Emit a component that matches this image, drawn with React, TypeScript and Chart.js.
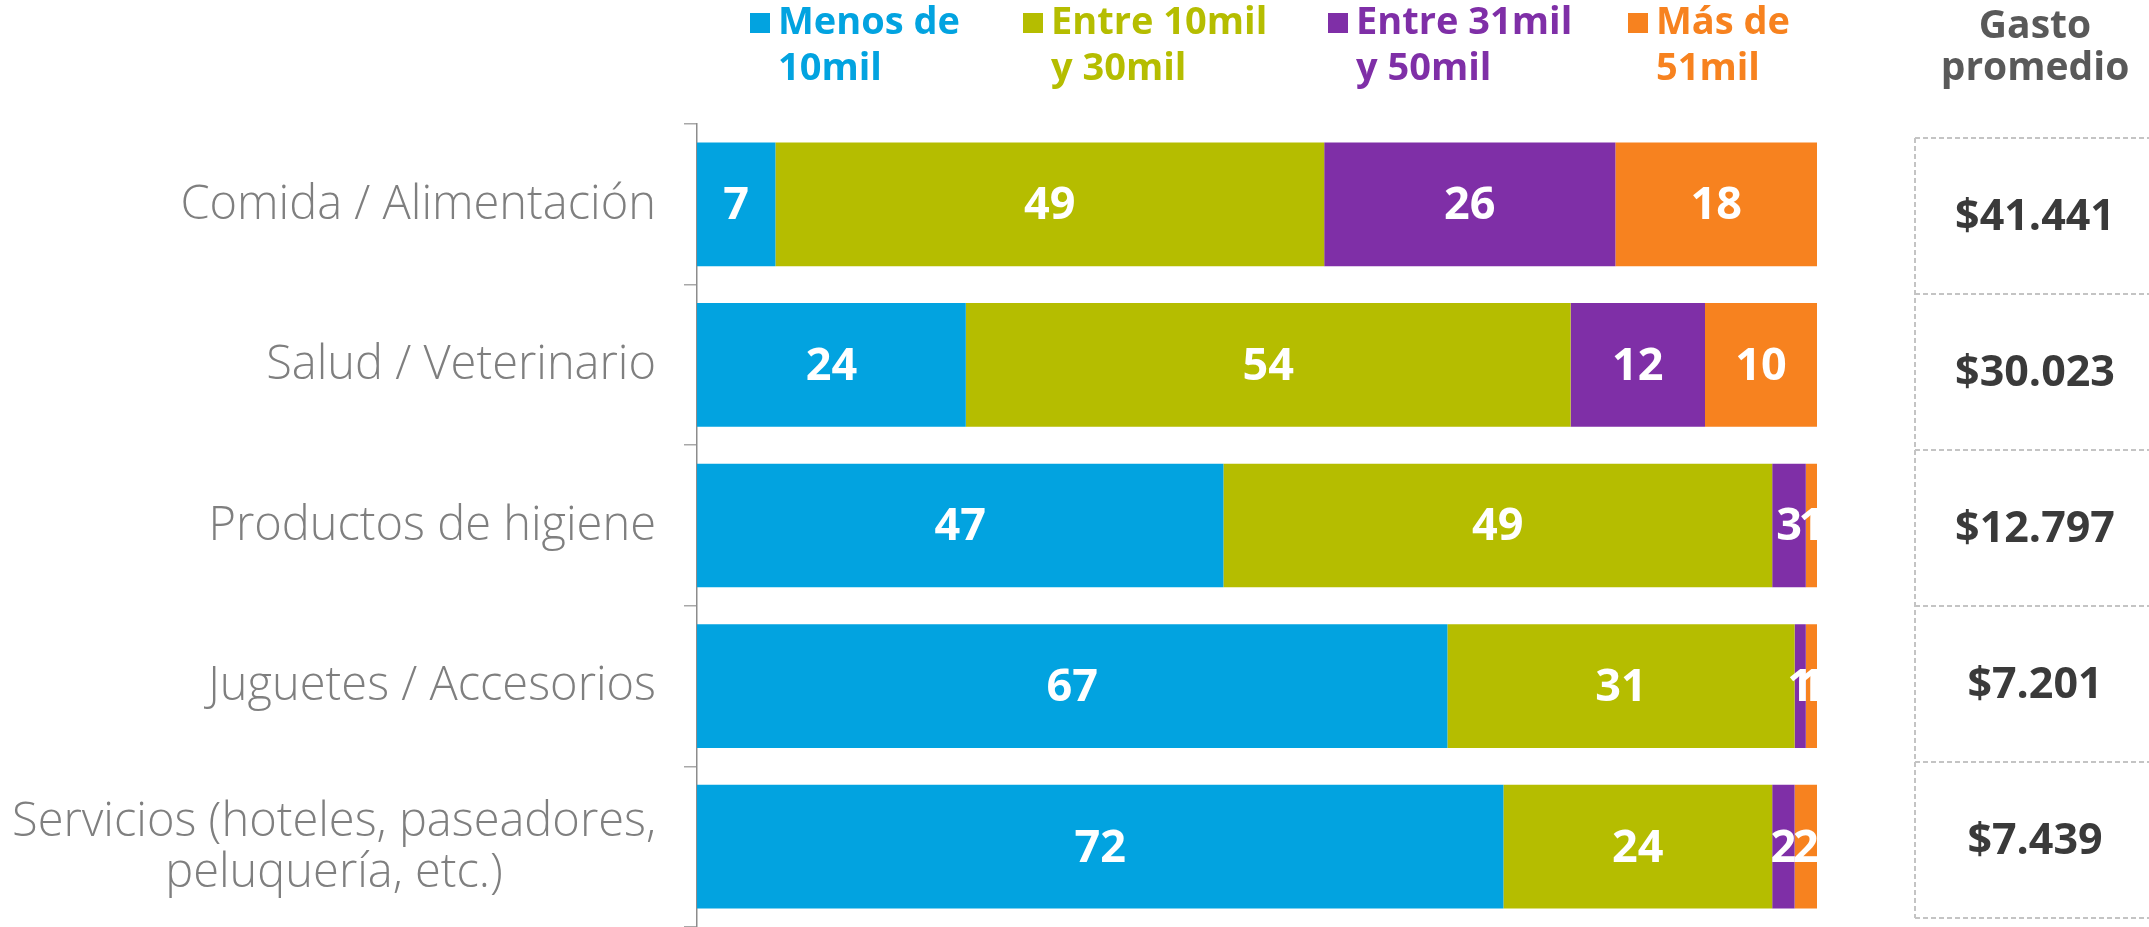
import React, { useEffect, useRef } from "react";
import { Chart, registerables } from "chart.js";

Chart.register(...registerables);

// ---------- data ----------
const categories: string[][] = [
  ["Comida / Alimentación"],
  ["Salud / Veterinario"],
  ["Productos de higiene"],
  ["Juguetes / Accesorios"],
  ["Servicios (hoteles, paseadores,", "peluquería, etc.)"],
];
const menos10 = [7, 24, 47, 67, 72];
const entre10y30 = [49, 54, 49, 31, 24];
const entre31y50 = [26, 12, 3, 1, 2];
const mas51 = [18, 10, 1, 1, 2];
const gastoPromedio = ["$41.441", "$30.023", "$12.797", "$7.201", "$7.439"];
const seriesLegend: string[][] = [
  ["Menos de", "10mil"],
  ["Entre 10mil", "y 30mil"],
  ["Entre 31mil", "y 50mil"],
  ["Más de", "51mil"],
];
const gastoHeader = ["Gasto", "promedio"];

// ---------- styles / layout ----------
const COLORS = ["#02A3E0", "#B5BD00", "#7F2FA7", "#F7821F"];
const W = 2149;
const H = 927;
const FONT = "'Open Sans', 'DejaVu Sans', sans-serif";
const LEGEND_X = [750, 1023, 1328, 1628];
const LEGEND_TEXT_DX = 28;
const TABLE = { left: 1915, top: 138, rowH: 156, centerX: 2035 };
const LABEL_RIGHT = 656;
const LABEL_LINE_H = 51;

const overlayPlugin = {
  id: "overlay",
  afterDatasetsDraw(chart: any) {
    const ctx = chart.ctx;
    ctx.save();
    // value labels inside bars
    ctx.font = `700 45px ${FONT}`;
    ctx.fillStyle = "#ffffff";
    ctx.textAlign = "center";
    ctx.textBaseline = "middle";
    chart.data.datasets.forEach((ds: any, di: number) => {
      const meta = chart.getDatasetMeta(di);
      meta.data.forEach((el: any, i: number) => {
        const cx = (el.x + el.base) / 2;
        ctx.fillText(String(ds.data[i]), cx, el.y + 2);
      });
    });
    ctx.restore();
  },
  afterDraw(chart: any) {
    const ctx = chart.ctx;
    ctx.save();
    // category labels (multi-line centred within block, block right-aligned)
    const yScale = chart.scales.y;
    ctx.font = `300 47px ${FONT}`;
    ctx.fillStyle = "#7f7f7f";
    ctx.textAlign = "center";
    ctx.textBaseline = "middle";
    categories.forEach((lines, i) => {
      const yc = yScale.getPixelForValue(i);
      const bw = Math.max(...lines.map((l) => ctx.measureText(l).width));
      const cx = LABEL_RIGHT - bw / 2;
      lines.forEach((t, li) => {
        ctx.fillText(t, cx, yc + 1 + (li - (lines.length - 1) / 2) * LABEL_LINE_H);
      });
    });
    // legend
    ctx.textAlign = "left";
    ctx.textBaseline = "alphabetic";
    ctx.font = `700 38px ${FONT}`;
    seriesLegend.forEach((lines, i) => {
      ctx.fillStyle = COLORS[i];
      ctx.fillRect(LEGEND_X[i], 13, 20, 20);
      lines.forEach((t, li) => {
        ctx.fillText(t, LEGEND_X[i] + LEGEND_TEXT_DX, 34 + li * 46);
      });
    });
    // header
    ctx.fillStyle = "#595959";
    ctx.textAlign = "center";
    ctx.font = `700 39px ${FONT}`;
    gastoHeader.forEach((t, li) => ctx.fillText(t, TABLE.centerX, 38 + li * 42));
    // table lines
    ctx.strokeStyle = "#c4c4c4";
    ctx.lineWidth = 2;
    ctx.setLineDash([5, 3]);
    const n = gastoPromedio.length;
    ctx.beginPath();
    ctx.moveTo(TABLE.left, TABLE.top);
    ctx.lineTo(TABLE.left, TABLE.top + n * TABLE.rowH);
    for (let r = 0; r <= n; r++) {
      const y = TABLE.top + r * TABLE.rowH;
      ctx.moveTo(TABLE.left, y);
      ctx.lineTo(W, y);
    }
    ctx.stroke();
    ctx.setLineDash([]);
    // table values
    ctx.fillStyle = "#3a3a3a";
    ctx.font = `700 43px ${FONT}`;
    ctx.textBaseline = "middle";
    gastoPromedio.forEach((t, r) => {
      ctx.fillText(t, TABLE.centerX, TABLE.top + (r + 0.5) * TABLE.rowH + 2);
    });
    ctx.restore();
  },
};

export default function App() {
  const ref = useRef<HTMLCanvasElement | null>(null);
  useEffect(() => {
    if (!ref.current) return;
    const chart = new Chart(ref.current, {
      type: "bar",
      data: {
        labels: categories,
        datasets: [
          { label: seriesLegend[0].join(" "), data: menos10, backgroundColor: COLORS[0] },
          { label: seriesLegend[1].join(" "), data: entre10y30, backgroundColor: COLORS[1] },
          { label: seriesLegend[2].join(" "), data: entre31y50, backgroundColor: COLORS[2] },
          { label: seriesLegend[3].join(" "), data: mas51, backgroundColor: COLORS[3] },
        ],
      },
      options: {
        indexAxis: "y",
        responsive: false,
        animation: false,
        devicePixelRatio: 1,
        layout: { padding: { top: 124, right: W - 1817, bottom: -2, left: 0 } },
        datasets: {
          bar: { categoryPercentage: 1, barPercentage: 0.77, borderWidth: 0 },
        },
        plugins: {
          legend: { display: false },
          tooltip: { enabled: false },
          title: { display: false },
        },
        scales: {
          x: { stacked: true, min: 0, max: 100, display: false },
          y: {
            stacked: true,
            afterFit: (scale: any) => {
              scale.width = 697;
              scale.paddingTop = 0;
              scale.paddingBottom = 0;
            },
            grid: {
              display: true,
              drawOnChartArea: false,
              drawTicks: true,
              tickLength: 13,
              color: "#a8a8a8",
              lineWidth: 1.5,
              offset: true,
            },
            border: { display: true, color: "#8c8c8c", width: 1.5 },
            ticks: { display: false },
          },
        },
      },
      plugins: [overlayPlugin],
    } as any);
    return () => chart.destroy();
  }, []);
  return (
    <div style={{ position: "absolute", left: 0, top: 0, width: W, height: H, background: "#fff" }}>
      <canvas ref={ref} width={W} height={H} style={{ display: "block" }} />
    </div>
  );
}
